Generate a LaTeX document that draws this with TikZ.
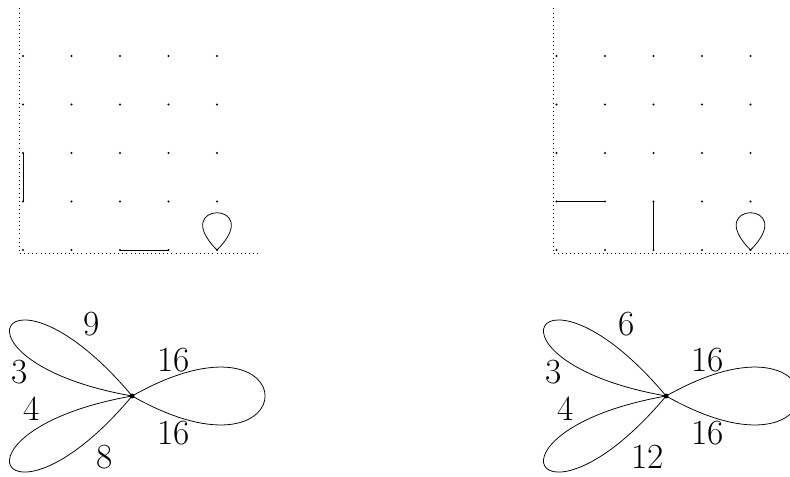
\documentclass[tikz,border=0pt]{standalone}
\begin{document}
\begin{tikzpicture}[x=1cm,y=1cm,
  axisline/.style={dotted},
  seg/.style={line width=0.5pt},
  lobe/.style={line width=0.45pt},
  lbl/.style={font=\huge, anchor=base, inner sep=0pt, outer sep=0pt},
]
\useasboundingbox (-0.474,-4.660) rectangle (15.814,5.155);

% ---------- grids ----------
\foreach \ox in {0,11} {
  \begin{scope}[xshift=\ox cm]
    \draw[axisline] (-0.07,4.98) -- (-0.07,-0.07) -- (4.9,-0.07);
    \foreach \i in {0,...,4}
      \foreach \j in {0,...,4}
        \fill (\i,\j) circle[radius=0.024];
  \end{scope}
}

% named grid points
\coordinate (La) at (0,1);  \coordinate (Lb) at (0,2);
\coordinate (Lc) at (2,0);  \coordinate (Ld) at (3,0);
\coordinate (Lt) at (4,0);
\coordinate (Ra) at (11,1); \coordinate (Rb) at (12,1);
\coordinate (Rc) at (13,0); \coordinate (Rd) at (13,1);
\coordinate (Rt) at (15,0);

\draw[seg] (La) -- (Lb);
\draw[seg] (Lc) -- (Ld);
\draw[lobe] (Lt) .. controls +(135:1.45) and +(45:1.45) .. (Lt);

\draw[seg] (Ra) -- (Rb);
\draw[seg] (Rc) -- (Rd);
\draw[lobe] (Rt) .. controls +(135:1.45) and +(45:1.45) .. (Rt);

% ---------- flowers ----------
\coordinate (Lf) at (2.25,-3.01);
\coordinate (Rf) at (13.26,-3.01);

\foreach \c in {Lf,Rf} {
  \draw[lobe] (\c) .. controls +(29.5:4.2) and +(-29.5:4.2) .. (\c);
  \draw[lobe] (\c) .. controls +(130:4.1) and +(170:4.1) .. (\c);
  \draw[lobe] (\c) .. controls +(190:4.1) and +(230:4.1) .. (\c);
  \fill (\c) circle[radius=0.05];
}

\node[lbl] (L9)  at ([shift={(-0.825,1.258)}]Lf) {9};
\node[lbl] (L3)  at ([shift={(-2.32,0.26)}]Lf) {3};
\node[lbl] (L4)  at ([shift={(-2.07,-0.51)}]Lf) {4};
\node[lbl] (L8)  at ([shift={(-0.573,-1.49)}]Lf) {8};
\node[lbl] (L16a) at ([shift={(0.852,0.50)}]Lf) {16};
\node[lbl] (L16b) at ([shift={(0.852,-0.99)}]Lf) {16};

\node[lbl] (R6)  at ([shift={(-0.82,1.258)}]Rf) {6};
\node[lbl] (R3)  at ([shift={(-2.31,0.26)}]Rf) {3};
\node[lbl] (R4)  at ([shift={(-2.07,-0.51)}]Rf) {4};
\node[lbl] (R12) at ([shift={(-0.374,-1.49)}]Rf) {12};
\node[lbl] (R16a) at ([shift={(0.852,0.50)}]Rf) {16};
\node[lbl] (R16b) at ([shift={(0.852,-0.99)}]Rf) {16};
\end{tikzpicture}
\end{document}
